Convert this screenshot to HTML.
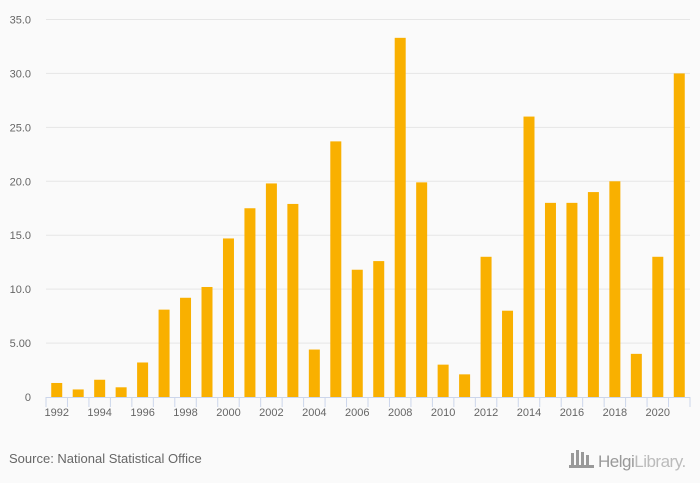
<!DOCTYPE html>
<html><head><meta charset="utf-8"><style>
html,body{margin:0;padding:0;background:#fafafa;}
svg{display:block;font-family:"Liberation Sans",sans-serif;}
</style></head><body>
<svg id="chart" width="700" height="483" xmlns="http://www.w3.org/2000/svg">
<rect x="0" y="0" width="700" height="483" fill="#fafafa"/>
<g id="grid"></g><g id="bars"></g><g id="axis"></g>
<text x="9" y="463" font-size="13" fill="#666">Source: National Statistical Office</text>
<g>
<g fill="#999"><rect x="571" y="453" width="3" height="13"/><rect x="576" y="450" width="3" height="16"/><rect x="581" y="452" width="3" height="14"/><rect x="586" y="455" width="3" height="11"/><rect x="569" y="465" width="25" height="3"/></g>
<text x="598" y="467" font-size="17" fill="#999" letter-spacing="-0.5">Helgi<tspan fill="#bbb">Library.</tspan></text>
</g>
</svg>
<script>
const years=[1992,1993,1994,1995,1996,1997,1998,1999,2000,2001,2002,2003,2004,2005,2006,2007,2008,2009,2010,2011,2012,2013,2014,2015,2016,2017,2018,2019,2020,2021];
const values=[1.3,0.7,1.6,0.9,3.2,8.1,9.2,10.2,14.7,17.5,19.8,17.9,4.4,23.7,11.8,12.6,33.3,19.9,3.0,2.1,13.0,8.0,26.0,18.0,18.0,19.0,20.0,4.0,13.0,30.0];
const yTicks=[0,5,10,15,20,25,30,35];
const yTickLabels=["0","5.00","10.0","15.0","20.0","25.0","30.0","35.0"];
const NS="http://www.w3.org/2000/svg";
const x0=46,x1=690,y0=397,yTop=19.5,yMax=35;
const step=(x1-x0)/years.length;
const yS=v=>y0-(v/yMax)*(y0-yTop);
const xS=i=>x0+step*(i+0.5);
function mk(t,a,p){const e=document.createElementNS(NS,t);for(const k in a)e.setAttribute(k,a[k]);p.appendChild(e);return e;}
const grid=document.getElementById('grid'),bars=document.getElementById('bars'),axis=document.getElementById('axis');
yTicks.forEach((t,i)=>{
  if(t>0){const l=mk('line',{x1:x0,x2:x1,y1:yS(t),y2:yS(t),stroke:'#e6e6e6','stroke-width':1},grid);
  
  }
  const tx=mk('text',{x:31,y:yS(t)+4,'font-size':11,fill:'#666','text-anchor':'end'},grid);
  tx.textContent=yTickLabels[i];
  
  
});
values.forEach((v,i)=>{
  const r=mk('rect',{x:xS(i)-5.5,y:yS(v),width:11,height:y0-yS(v),fill:'#f9b000'},bars);
  
  
});
const al=mk('line',{x1:x0,x2:x1,y1:y0+0.5,y2:y0+0.5,stroke:'#ccd6eb','stroke-width':1},axis);


for(let i=0;i<=years.length;i++){
  const tk=mk('line',{x1:x0+step*i,x2:x0+step*i,y1:y0,y2:y0+10,stroke:'#ccd6eb','stroke-width':1},axis);
  
  
}
years.forEach((y,i)=>{
  if(i%2===0){const t=mk('text',{x:xS(i),y:y0+19,'font-size':11,fill:'#666','text-anchor':'middle'},axis);
  t.textContent=y;
  
  }
});
</script>
</body></html>
